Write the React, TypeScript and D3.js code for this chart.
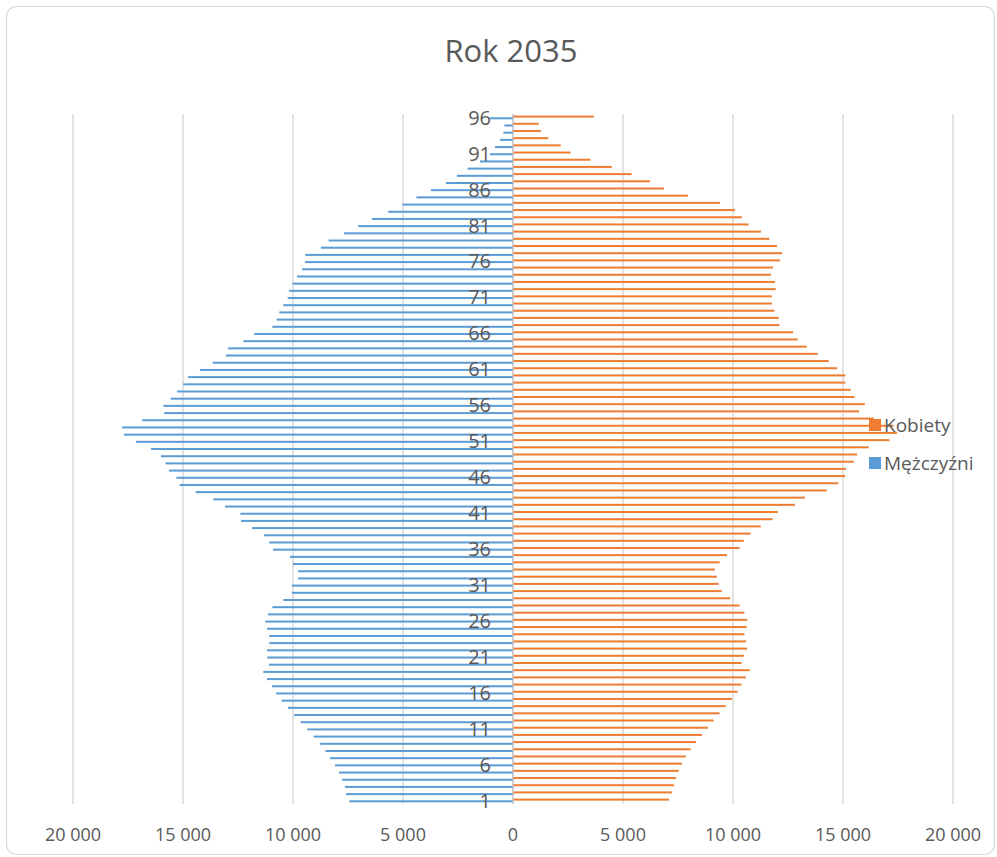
import React from "react";
import * as d3 from "d3";

const ages: number[] = [
  1, 2, 3, 4, 5, 6, 7, 8, 9, 10, 11, 12, 13, 14, 15, 16, 17, 18, 19, 20,
  21, 22, 23, 24, 25, 26, 27, 28, 29, 30, 31, 32, 33, 34, 35, 36, 37, 38, 39, 40,
  41, 42, 43, 44, 45, 46, 47, 48, 49, 50, 51, 52, 53, 54, 55, 56, 57, 58, 59, 60,
  61, 62, 63, 64, 65, 66, 67, 68, 69, 70, 71, 72, 73, 74, 75, 76, 77, 78, 79, 80,
  81, 82, 83, 84, 85, 86, 87, 88, 89, 90, 91, 92, 93, 94, 95, 96,
];

const kobiety: number[] = [
  7090, 7230, 7320, 7410, 7530, 7680, 7850, 8080, 8320, 8590,
  8860, 9120, 9390, 9670, 9950, 10210, 10390, 10580, 10760, 10390,
  10490, 10640, 10590, 10520, 10620, 10650, 10520, 10300, 9880, 9490,
  9350, 9270, 9180, 9390, 9730, 10300, 10490, 10800, 11260, 11800,
  12030, 12820, 13270, 14260, 14790, 15100, 15140, 15490, 15640, 16170,
  17110, 17450, 17300, 16400, 15730, 15990, 15520, 15350, 15110, 15110,
  14740, 14350, 13850, 13350, 12940, 12730, 12110, 12080, 11880, 11770,
  11770, 11940, 11910, 11730, 11820, 12140, 12230, 12000, 11650, 11270,
  10710, 10400, 10090, 9410, 7950, 6860, 6230, 5390, 4490, 3520,
  2620, 2170, 1610, 1270, 1170, 3680,
];

const mezczyzni: number[] = [
  7440, 7590, 7640, 7770, 7910, 8090, 8320, 8520, 8770, 9060,
  9350, 9650, 9950, 10230, 10520, 10770, 10950, 11180, 11350, 11090,
  11170, 11180, 11080, 11080, 11180, 11260, 11140, 10940, 10440, 10050,
  10050, 9770, 9770, 10000, 10140, 10910, 11080, 11320, 11860, 12360,
  12390, 13090, 13620, 14420, 15150, 15300, 15640, 15790, 16000, 16450,
  17140, 17680, 17770, 16850, 15850, 15890, 15560, 15270, 14990, 14770,
  14230, 13650, 13050, 12950, 12260, 11760, 10940, 10740, 10620, 10440,
  10240, 10180, 10020, 9820, 9590, 9450, 9440, 8730, 8380, 7680,
  7030, 6410, 5670, 5020, 4390, 3730, 3050, 2550, 2060, 1500,
  1050, 820, 590, 440, 390, 1050,
];

const xTickValues: number[] = [-20000, -15000, -10000, -5000, 0, 5000, 10000, 15000, 20000];
const xTickLabels: string[] = ["20 000", "15 000", "10 000", "5 000", "0", "5 000", "10 000", "15 000", "20 000"];
const yTickLabels: number[] = [1, 6, 11, 16, 21, 26, 31, 36, 41, 46, 51, 56, 61, 66, 71, 76, 81, 86, 91, 96];

const title = "Rok 2035";
const seriesNames = ["Kobiety", "Mężczyźni"];
const colors = { kobiety: "#ED7D31", mezczyzni: "#5B9BD5" };

const W = 997;
const H = 857;
const FONT = "'Open Sans', 'DejaVu Sans', sans-serif";

export default function App() {
  const x = d3.scaleLinear().domain([-20000, 20000]).range([73, 953]);
  const y = d3
    .scaleBand<number>()
    .domain([...ages].reverse())
    .range([113.9, 804.1])
    .padding(0);
  const bw = y.bandwidth();
  const cy = (a: number) => (y(a) as number) + bw / 2;
  const top = 113.9;
  const bottom = 804.1;

  return (
    <svg
      width={W}
      height={H}
      style={{ position: "absolute", left: 0, top: 0, background: "#fff" }}
      fontFamily={FONT}
    >
      <rect x={6.5} y={6.5} width={988} height={848} rx={10} ry={10} fill="#fff" stroke="#D9D9D9" strokeWidth={1.2} />
      <text x={511} y={62} textAnchor="middle" fontSize={31} fill="#595959">
        {title}
      </text>

      {xTickValues.map((v) => (
        <line key={"g" + v} x1={x(v)} x2={x(v)} y1={top} y2={bottom} stroke="#D9D9D9" strokeWidth={1.5} />
      ))}

      {ages.map((a, i) => (
        <rect
          key={"k" + a}
          x={x(0)}
          y={cy(a) - 1.9}
          width={x(kobiety[i]) - x(0)}
          height={2}
          fill={colors.kobiety}
        />
      ))}
      {ages.map((a, i) => (
        <rect
          key={"m" + a}
          x={x(-mezczyzni[i])}
          y={cy(a) - 0.2}
          width={x(0) - x(-mezczyzni[i])}
          height={2}
          fill={colors.mezczyzni}
        />
      ))}

      <line x1={x(0)} x2={x(0)} y1={top} y2={bottom} stroke="#BFBFBF" strokeWidth={1} />

      {yTickLabels.map((a) => (
        <text key={"yl" + a} x={491} y={cy(a)} dy="0.36em" textAnchor="end" fontSize={20} fill="#595959">
          {a}
        </text>
      ))}

      {xTickValues.map((v, i) => (
        <text key={"xl" + v} x={x(v)} y={841} textAnchor="middle" fontSize={18} fill="#595959">
          {xTickLabels[i]}
        </text>
      ))}

      <rect x={869} y={419} width={12} height={12} fill={colors.kobiety} />
      <text x={884} y={432} fontSize={19} fill="#595959">
        {seriesNames[0]}
      </text>
      <rect x={869} y={457} width={12} height={12} fill={colors.mezczyzni} />
      <text x={884} y={470} fontSize={19} fill="#595959">
        {seriesNames[1]}
      </text>
    </svg>
  );
}
